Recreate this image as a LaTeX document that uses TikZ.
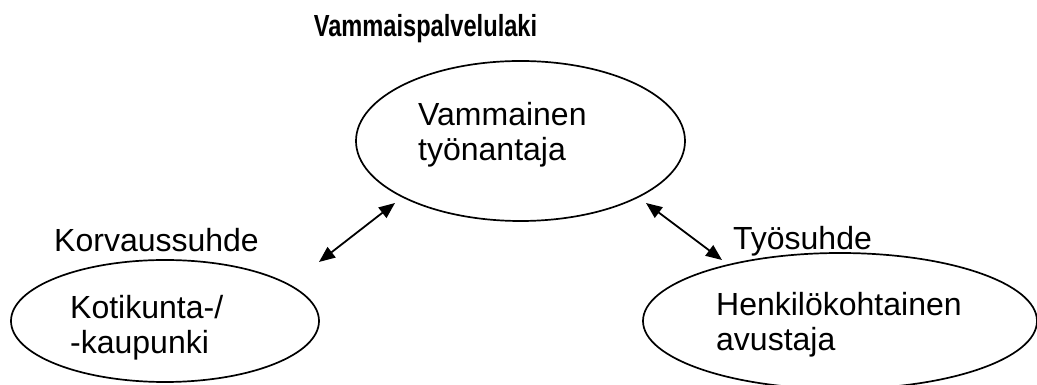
\documentclass[tikz,border=0pt]{standalone}
\usepackage{fontspec}
\usepackage{graphicx}
\setmainfont{Liberation Sans}
\usetikzlibrary{shapes.geometric,arrows.meta}

\begin{document}
\begin{tikzpicture}[x=1pt, y=1pt,
    oval/.style={draw, ellipse, line width=1.7pt, inner sep=0pt},
    teksti/.style={inner sep=0pt, align=left, font=\fontsize{32}{35}\selectfont},
    nuoli/.style={line width=1.8pt, {Triangle[length=16pt,width=13pt]}-{Triangle[length=16pt,width=13pt]}}]
\useasboundingbox (0,0) rectangle (1037,385);
\node[anchor=base, inner sep=0pt, font=\fontsize{30.5}{33}\selectfont\bfseries] (laki) at (425.5,348)
    {\scalebox{0.775}[1]{Vammaispalvelulaki}};
% ellipsit
\node[oval, minimum width=329, minimum height=160] (tyonantaja) at (520.5,244) {};
\node[oval, minimum width=308, minimum height=122] (kunta) at (165,64) {};
\node[oval, minimum width=394, minimum height=136] (avustaja) at (840,64) {};
\node[teksti, anchor=north west] (t1) at (418,283) {Vammainen\\työnantaja};
\node[teksti, anchor=north west] (t2) at (70,90) {Kotikunta-/\\-kaupunki};
\node[teksti, anchor=north west] (t3) at (716,93) {Henkilökohtainen\\avustaja};
% suhteet
\node[teksti, anchor=base] (korvaus) at (156.5,133) {Korvaussuhde};
\node[teksti, anchor=base] (tyo) at (802.5,135) {Työsuhde};
\coordinate (k1) at (319,123);
\coordinate (k2) at (395,182);
\coordinate (a1) at (646,182);
\coordinate (a2) at (722,125);
\draw[nuoli] (k1) -- (k2);
\draw[nuoli] (a1) -- (a2);
\end{tikzpicture}
\end{document}
